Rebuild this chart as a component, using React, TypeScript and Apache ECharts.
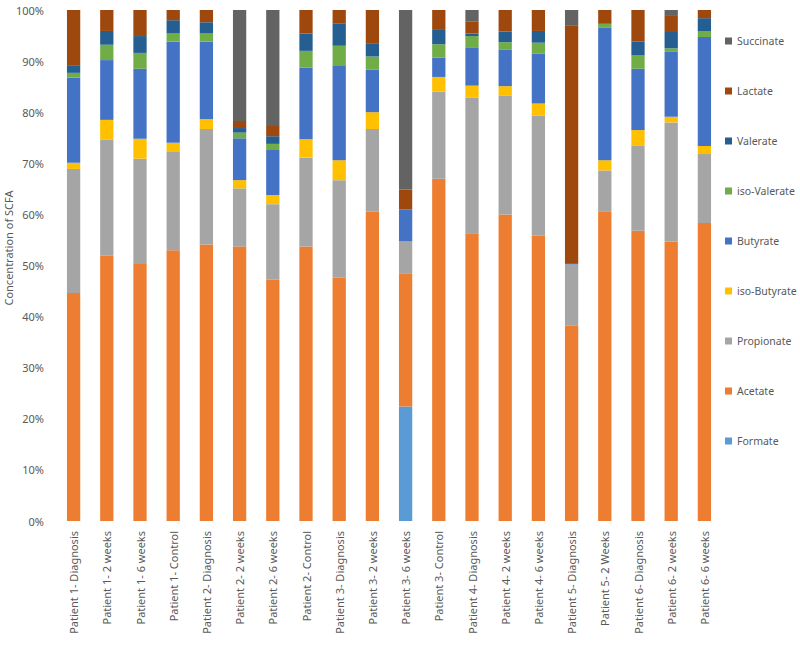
import React, { useEffect, useRef } from "react";
import * as echarts from "echarts";

const categories = [
  "Patient 1- Diagnosis",
  "Patient 1- 2 weeks",
  "Patient 1- 6 weeks",
  "Patient 1- Control",
  "Patient 2- Diagnosis",
  "Patient 2- 2 weeks",
  "Patient 2- 6 weeks",
  "Patient 2- Control",
  "Patient 3- Diagnosis",
  "Patient 3- 2 weeks",
  "Patient 3- 6 weeks",
  "Patient 3- Control",
  "Patient 4- Diagnosis",
  "Patient 4- 2 weeks",
  "Patient 4- 6 weeks",
  "Patient 5- Diagnosis",
  "Patient 5- 2 Weeks",
  "Patient 6- Diagnosis",
  "Patient 6- 2 weeks",
  "Patient 6- 6 weeks",
];

const formate = [0, 0, 0, 0, 0, 0, 0, 0, 0, 0, 22.4, 0, 0, 0, 0, 0, 0, 0, 0, 0];
const acetate = [44.6, 51.9, 50.3, 53.0, 54.1, 53.7, 47.2, 53.7, 47.6, 60.5, 26.1, 67.0, 56.3, 60.0, 55.8, 38.2, 60.5, 56.8, 54.7, 58.3];
const propionate = [24.3, 22.7, 20.6, 19.2, 22.6, 11.4, 14.8, 17.4, 19.1, 16.2, 6.2, 17.0, 26.5, 23.2, 23.5, 12.0, 8.1, 16.6, 23.3, 13.5];
const isoButyrate = [1.2, 3.9, 3.9, 1.8, 1.9, 1.6, 1.8, 3.6, 3.9, 3.3, 0, 2.9, 2.4, 1.9, 2.4, 0, 2.0, 3.1, 1.1, 1.6];
const butyrate = [16.7, 11.7, 13.7, 19.8, 15.2, 8.2, 8.8, 14.0, 18.6, 8.3, 6.3, 3.8, 7.5, 7.1, 9.8, 0.3, 25.9, 12.0, 12.7, 21.3];
const isoValerate = [0.9, 3.0, 3.1, 1.6, 1.6, 1.1, 1.2, 3.3, 3.8, 2.6, 0, 2.6, 2.2, 1.5, 2.1, 0, 0.8, 2.6, 0.7, 1.1];
const valerate = [1.5, 2.7, 3.3, 2.6, 2.2, 0.9, 1.5, 3.4, 4.4, 2.6, 0, 2.8, 0.5, 2.1, 2.3, 0, 0, 2.7, 3.2, 2.6];
const lactate = [10.8, 4.1, 5.1, 2.0, 2.4, 1.4, 2.0, 4.6, 2.6, 6.5, 3.8, 3.9, 2.3, 4.2, 4.1, 46.4, 2.7, 6.2, 3.3, 1.6];
const succinate = [0, 0, 0, 0, 0, 21.7, 22.7, 0, 0, 0, 35.2, 0, 2.3, 0, 0, 3.1, 0, 0, 1.0, 0];

const yTicks = [0, 10, 20, 30, 40, 50, 60, 70, 80, 90, 100];

const seriesDefs = [
  { name: "Formate", data: formate, color: "#5B9BD5" },
  { name: "Acetate", data: acetate, color: "#ED7D31" },
  { name: "Propionate", data: propionate, color: "#A5A5A5" },
  { name: "iso-Butyrate", data: isoButyrate, color: "#FFC000" },
  { name: "Butyrate", data: butyrate, color: "#4472C4" },
  { name: "iso-Valerate", data: isoValerate, color: "#70AD47" },
  { name: "Valerate", data: valerate, color: "#255E91" },
  { name: "Lactate", data: lactate, color: "#9E480E" },
  { name: "Succinate", data: succinate, color: "#636363" },
];

const FONT = "'Noto Sans', 'Open Sans', sans-serif";
const TXT = "#595959";

export default function App() {
  const ref = useRef<HTMLDivElement>(null);
  useEffect(() => {
    if (!ref.current) return;
    const chart = echarts.init(ref.current, undefined, { renderer: "svg" });
    chart.setOption({
      animation: false,
      backgroundColor: "#ffffff",
      textStyle: { fontFamily: FONT },
      grid: { left: 57, right: 79, top: 10, bottom: 124, containLabel: false },
      legend: {
        orient: "vertical",
        left: 720,
        top: 29,
        icon: "rect",
        itemWidth: 7,
        itemHeight: 7,
        itemGap: 36,
        data: seriesDefs.map((s) => s.name).reverse(),
        textStyle: { fontFamily: FONT, fontSize: 10.5, color: TXT, lineHeight: 14 },
      },
      xAxis: {
        type: "category",
        data: categories,
        axisTick: { show: false },
        axisLine: { show: false },
        axisLabel: {
          rotate: 90,
          interval: 0,
          margin: 10,
          fontFamily: FONT,
          fontSize: 11,
          color: TXT,
        },
      },
      yAxis: {
        type: "value",
        min: yTicks[0],
        max: yTicks[yTicks.length - 1],
        interval: 10,
        splitLine: { show: false },
        axisLine: { show: false },
        axisTick: { show: false },
        axisLabel: {
          formatter: "{value}%",
          margin: 13,
          fontFamily: FONT,
          fontSize: 11,
          color: TXT,
        },
      },
      graphic: [
        {
          type: "text",
          x: 8,
          y: 248,
          rotation: Math.PI / 2,
          style: {
            text: "Concentration of SCFA",
            fontFamily: FONT,
            fontSize: 11,
            fill: TXT,
            align: "center",
            verticalAlign: "middle",
          },
        },
      ],
      series: seriesDefs.map((s) => ({
        name: s.name,
        type: "bar",
        stack: "total",
        barWidth: "40%",
        data: s.data,
        itemStyle: { color: s.color },
      })),
    });
    return () => chart.dispose();
  }, []);
  return (
    <div
      ref={ref}
      style={{ position: "absolute", left: 0, top: 0, width: 800, height: 645 }}
    />
  );
}
